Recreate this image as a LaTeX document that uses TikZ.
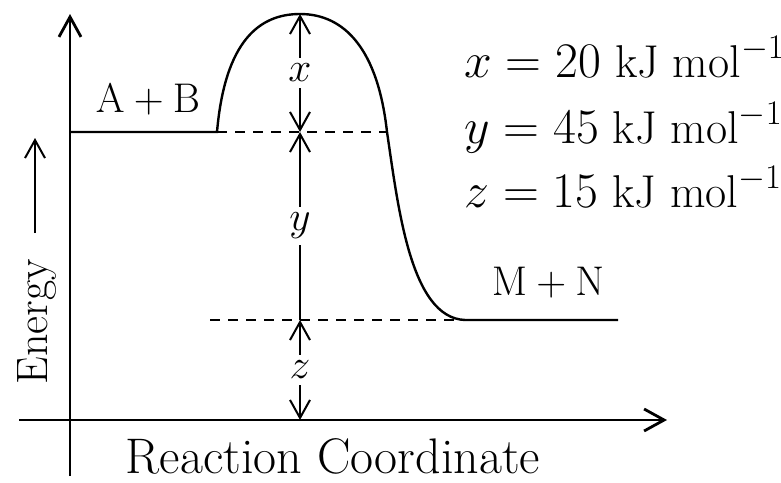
\documentclass[tikz,border=0pt]{standalone}
\usetikzlibrary{arrows.meta,positioning}

\begin{document}
\begin{tikzpicture}[
      x=0.5pt, y=-0.5pt,
      axis/.style={-{Straight Barb[length=10pt,width=11pt]}, line width=1.4pt},
      curve/.style={line width=1.2pt},
      level/.style={dash pattern=on 5pt off 4pt, line width=0.9pt},
      dim/.style={{Straight Barb[length=9pt,width=10pt]}-{Straight Barb[length=9pt,width=10pt]}, line width=1pt},
      up/.style={-{Straight Barb[length=9pt,width=10pt]}, line width=1pt},
      lbl/.style={font=\fontsize{22}{26}\selectfont, inner sep=1pt},
      big/.style={font=\fontsize{23}{27}\selectfont, inner sep=1pt},
      sym/.style={lbl, fill=white, inner sep=3pt}
    ]
      \useasboundingbox (0,0) rectangle (781,482);
      % axes
      \coordinate (ybot) at (70,476);
      \coordinate (ytop) at (70,14);
      \coordinate (xleft) at (19,420);
      \coordinate (xright) at (667,420);
      \draw[axis] (ybot) -- (ytop);
      \draw[axis] (xleft) -- (xright);
      % energy profile
      \coordinate (start) at (70,132);
      \coordinate (rise) at (217,132);
      \coordinate (peak) at (300,14);
      \coordinate (fall) at (387,132);
      \coordinate (settle) at (465,320);
      \coordinate (finish) at (618,320);
      \coordinate (prodleft) at (210,320);
      \draw[curve] (start) -- (rise) .. controls (225,40) and (260,14) .. (peak)
        .. controls (345,14) and (378,50) .. (fall)
        .. controls (398,205) and (410,318) .. (settle) -- (finish);
      \draw[level] (rise) -- (fall);
      \draw[level] (prodleft) -- (settle);
      % energy gaps
      \coordinate (reactlvl) at (300,132);
      \coordinate (prodlvl) at (300,320);
      \coordinate (base) at (300,420);
      \draw[dim] (reactlvl) -- node[sym] (xlab) {$x$} (peak);
      \draw[up] (prodlvl) -- node[sym] (ylab) {$y$} (reactlvl);
      \draw[dim] (prodlvl) -- node[sym] (zlab) {$z$} (base);
      % labels
      \node[lbl] (ab) at (148,100) {$\mathrm{A+B}$};
      \node[lbl] (mn) at (548,283) {$\mathrm{M+N}$};
      \node[big, anchor=base west] (xval) at (462,77) {$x=20$ kJ mol$^{-1}$};
      \node[big, anchor=base west] (yval) at (462,143) {$y=45$ kJ mol$^{-1}$};
      \node[big, anchor=base west] (zval) at (462,207) {$z=15$ kJ mol$^{-1}$};
      \node[lbl, font=\fontsize{25}{30}\selectfont, anchor=base] (rxn) at (333,473) {Reaction Coordinate};
      \coordinate (etail) at (35,233);
      \coordinate (ehead) at (35,138);
      \draw[up] (etail) -- (ehead);
      \node[lbl, rotate=90] (energy) at (37,322) {Energy};
    \end{tikzpicture}
\end{document}
